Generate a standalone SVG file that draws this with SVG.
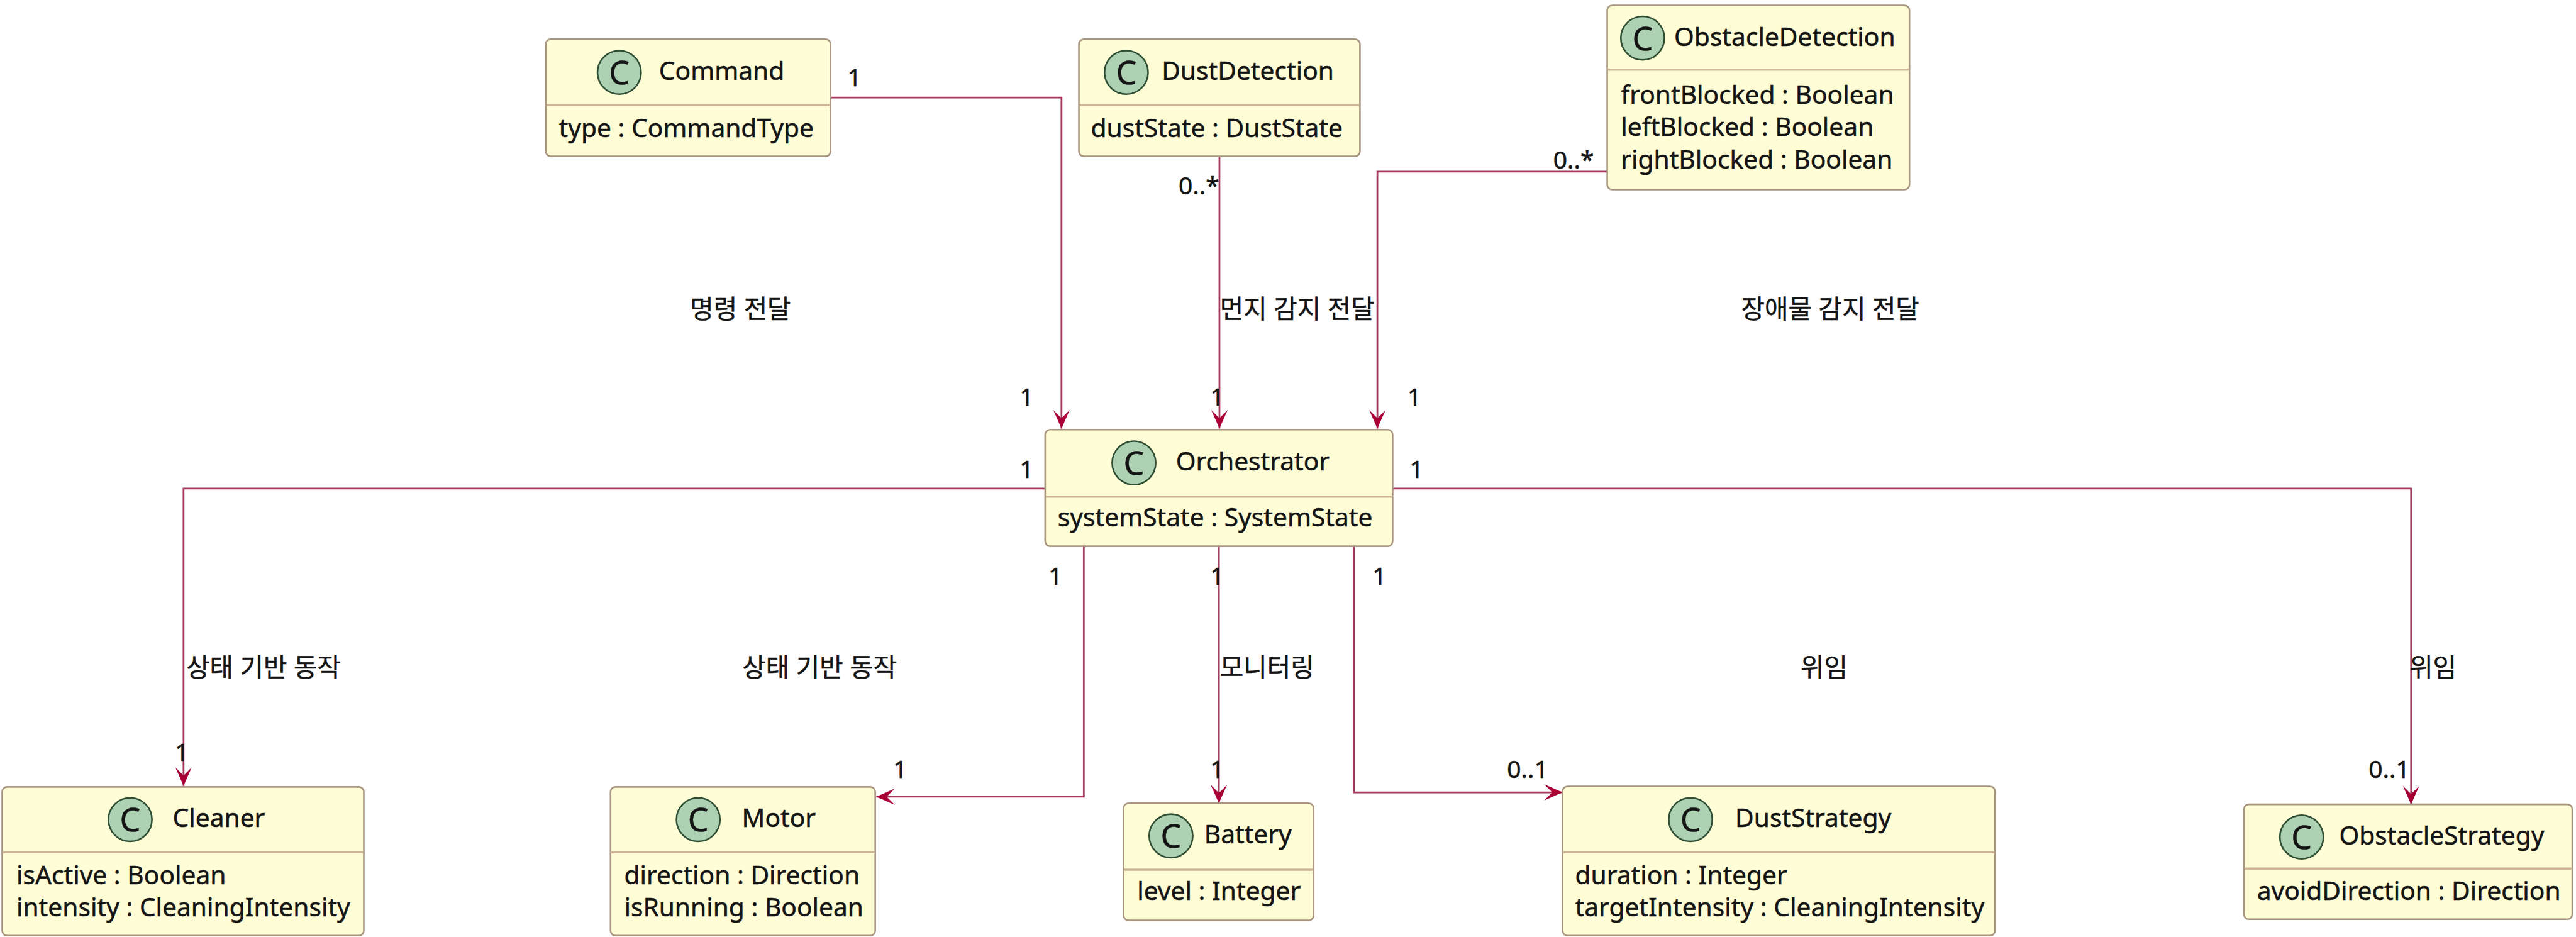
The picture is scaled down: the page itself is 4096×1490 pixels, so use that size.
<svg xmlns="http://www.w3.org/2000/svg" width="4096" height="1490" viewBox="0 0 4096 1490">
  <style>
    text { font-family: "Noto Sans", "Noto Sans CJK KR", sans-serif; fill: #141414; stroke: #141414; stroke-width: 0.6; }
    .box { fill: #FEFDD6; stroke: #A8957F; stroke-width: 3; }
    .div { stroke: #CDB595; stroke-width: 4; }
    .spot { fill: #ADD1B2; stroke: #2F4F35; stroke-width: 3; }
    .spotc { font-size: 60px; text-anchor: middle; }
    .name { font-size: 47px; }
    .attr { font-size: 47px; }
    .mult { font-size: 45px; }
    .lbl { font-size: 47px; }
    .edge { fill: none; stroke: #A33A5C; stroke-width: 3.2; }
  </style>
  <defs>
    <marker id="arrow" markerUnits="userSpaceOnUse" orient="auto" markerWidth="38" markerHeight="34" viewBox="-36 -17 38 34" refX="0" refY="0">
      <path d="M0,0 L-34,-15 L-19,0 L-34,15 Z" fill="#A80036"/>
    </marker>
  </defs>
  <rect width="4096" height="1490" fill="#ffffff"/>
  <g transform="scale(0.866)">
    <!-- associations -->
    <g id="connectors">
      <path class="edge" d="M1525,179 H1949 V787" marker-end="url(#arrow)"/>
      <path class="edge" d="M2239,287 V787" marker-end="url(#arrow)"/>
      <path class="edge" d="M2951,315 H2529 V787" marker-end="url(#arrow)"/>
      <path class="edge" d="M1919,897 H337 V1443" marker-end="url(#arrow)"/>
      <path class="edge" d="M1990,1003 V1463 H1609" marker-end="url(#arrow)"/>
      <path class="edge" d="M2238,1003 V1475" marker-end="url(#arrow)"/>
      <path class="edge" d="M2486,1003 V1455 H2869" marker-end="url(#arrow)"/>
      <path class="edge" d="M2557,897 H4427 V1477" marker-end="url(#arrow)"/>

      <!-- multiplicities -->
      <text class="mult" x="1556" y="158">1</text>
      <text class="mult" x="1872" y="745">1</text>
      <text class="mult" x="2164" y="357">0..*</text>
      <text class="mult" x="2222" y="745">1</text>
      <text class="mult" x="2852" y="310">0..*</text>
      <text class="mult" x="2584" y="745">1</text>
      <text class="mult" x="1872" y="878">1</text>
      <text class="mult" x="321" y="1397">1</text>
      <text class="mult" x="1925" y="1074">1</text>
      <text class="mult" x="1640" y="1428">1</text>
      <text class="mult" x="2222" y="1074">1</text>
      <text class="mult" x="2222" y="1428">1</text>
      <text class="mult" x="2520" y="1074">1</text>
      <text class="mult" x="2767" y="1428">0..1</text>
      <text class="mult" x="2588" y="878">1</text>
      <text class="mult" x="4349" y="1428">0..1</text>

      <!-- association labels -->
      <text class="lbl" x="1267" y="584">명령 전달</text>
      <text class="lbl" x="2240" y="584">먼지 감지 전달</text>
      <text class="lbl" x="3197" y="584">장애물 감지 전달</text>
      <text class="lbl" x="342" y="1242">상태 기반 동작</text>
      <text class="lbl" x="1363" y="1242">상태 기반 동작</text>
      <text class="lbl" x="2240" y="1242">모니터링</text>
      <text class="lbl" x="3306" y="1242">위임</text>
      <text class="lbl" x="4424" y="1242">위임</text>
    </g>

    <g id="Command">
      <rect class="box" x="1002" y="72" width="523" height="215" rx="9"/>
      <line class="div" x1="1003" y1="193" x2="1524" y2="193"/>
      <circle class="spot" cx="1137" cy="133" r="40"/>
      <text class="spotc" x="1137" y="155">C</text>
      <text class="name" x="1210" y="147">Command</text>
      <text class="attr" x="1026" y="252">type : CommandType</text>
    </g>

    <g id="DustDetection">
      <rect class="box" x="1981" y="72" width="516" height="215" rx="9"/>
      <line class="div" x1="1982" y1="193" x2="2496" y2="193"/>
      <circle class="spot" cx="2068" cy="133" r="40"/>
      <text class="spotc" x="2068" y="155">C</text>
      <text class="name" x="2133" y="147">DustDetection</text>
      <text class="attr" x="2003" y="252">dustState : DustState</text>
    </g>

    <g id="ObstacleDetection">
      <rect class="box" x="2951" y="10" width="555" height="338" rx="9"/>
      <line class="div" x1="2952" y1="128" x2="3505" y2="128"/>
      <circle class="spot" cx="3016" cy="70" r="40"/>
      <text class="spotc" x="3016" y="92">C</text>
      <text class="name" x="3074" y="84">ObstacleDetection</text>
      <text class="attr" x="2976" y="190">frontBlocked : Boolean</text>
      <text class="attr" x="2976" y="250">leftBlocked : Boolean</text>
      <text class="attr" x="2976" y="310">rightBlocked : Boolean</text>
    </g>

    <g id="Orchestrator">
      <rect class="box" x="1919" y="789" width="638" height="214" rx="9"/>
      <line class="div" x1="1920" y1="912" x2="2556" y2="912"/>
      <circle class="spot" cx="2082" cy="850" r="40"/>
      <text class="spotc" x="2082" y="872">C</text>
      <text class="name" x="2159" y="864">Orchestrator</text>
      <text class="attr" x="1942" y="967">systemState : SystemState</text>
    </g>

    <g id="Cleaner">
      <rect class="box" x="4" y="1445" width="664" height="273" rx="9"/>
      <line class="div" x1="5" y1="1565" x2="667" y2="1565"/>
      <circle class="spot" cx="239" cy="1505" r="40"/>
      <text class="spotc" x="239" y="1527">C</text>
      <text class="name" x="317" y="1519">Cleaner</text>
      <text class="attr" x="30" y="1623">isActive : Boolean</text>
      <text class="attr" x="30" y="1683">intensity : CleaningIntensity</text>
    </g>

    <g id="Motor">
      <rect class="box" x="1121" y="1445" width="486" height="273" rx="9"/>
      <line class="div" x1="1122" y1="1565" x2="1606" y2="1565"/>
      <circle class="spot" cx="1282" cy="1505" r="40"/>
      <text class="spotc" x="1282" y="1527">C</text>
      <text class="name" x="1362" y="1519">Motor</text>
      <text class="attr" x="1146" y="1623">direction : Direction</text>
      <text class="attr" x="1146" y="1683">isRunning : Boolean</text>
    </g>

    <g id="Battery">
      <rect class="box" x="2063" y="1475" width="349" height="215" rx="9"/>
      <line class="div" x1="2064" y1="1597" x2="2411" y2="1597"/>
      <circle class="spot" cx="2150" cy="1535" r="40"/>
      <text class="spotc" x="2150" y="1557">C</text>
      <text class="name" x="2211" y="1549">Battery</text>
      <text class="attr" x="2088" y="1653">level : Integer</text>
    </g>

    <g id="DustStrategy">
      <rect class="box" x="2869" y="1444" width="794" height="274" rx="9"/>
      <line class="div" x1="2870" y1="1565" x2="3662" y2="1565"/>
      <circle class="spot" cx="3104" cy="1505" r="40"/>
      <text class="spotc" x="3104" y="1527">C</text>
      <text class="name" x="3186" y="1519">DustStrategy</text>
      <text class="attr" x="2892" y="1623">duration : Integer</text>
      <text class="attr" x="2892" y="1683">targetIntensity : CleaningIntensity</text>
    </g>

    <g id="ObstacleStrategy">
      <rect class="box" x="4120" y="1477" width="603" height="211" rx="9"/>
      <line class="div" x1="4121" y1="1595" x2="4722" y2="1595"/>
      <circle class="spot" cx="4226" cy="1537" r="40"/>
      <text class="spotc" x="4226" y="1559">C</text>
      <text class="name" x="4295" y="1551">ObstacleStrategy</text>
      <text class="attr" x="4144" y="1652">avoidDirection : Direction</text>
    </g>
  </g>
</svg>
